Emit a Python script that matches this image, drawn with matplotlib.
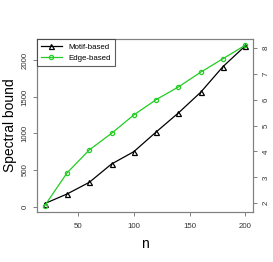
import matplotlib
matplotlib.use('Agg')
import matplotlib.pyplot as plt

plt.rcParams['font.family'] = ['Liberation Sans', 'DejaVu Sans']

# data
n = [20, 40, 60, 80, 100, 120, 140, 160, 180, 200]
motif = [40, 171, 331, 582, 751, 1020, 1281, 1564, 1915, 2199]
edge = [1.91, 3.17, 4.06, 4.70, 5.41, 6.00, 6.49, 7.06, 7.58, 8.10]

left_ticks = [0, 500, 1000, 1500, 2000]
right_ticks = [2, 3, 4, 5, 6, 7, 8]
x_ticks = [50, 100, 150, 200]

green = '#22cc22'
axis_grey = '#808080'

fig = plt.figure(figsize=(2.73, 2.62), dpi=100)
ax = fig.add_axes([0.1344, 0.192, 0.7923, 0.658])
ax2 = ax.twinx()

l1, = ax.plot(n, motif, color='black', lw=0.9, marker='^', ms=3.6,
              mfc='none', mec='black', mew=0.9, label='Motif-based')
l2, = ax2.plot(n, edge, color=green, lw=0.9, marker='o', ms=3.0,
               mfc='none', mec=green, mew=0.9, label='Edge-based')

ax.set_xlim(12.8, 207)
ax.set_ylim(-71, 2290)
ax2.set_ylim(1.676, 8.33)

ax.set_xticks(x_ticks)
ax.set_yticks(left_ticks)
ax2.set_yticks(right_ticks)

for a in (ax, ax2):
    for s in a.spines.values():
        s.set_color(axis_grey)
        s.set_linewidth(0.8)
    a.tick_params(length=3, width=0.7, color=axis_grey, labelsize=5.7,
                  labelcolor='#333333')
ax.tick_params(axis='x', pad=5)
ax.tick_params(axis='y', pad=3)
ax2.tick_params(axis='y', pad=4)

for lab in ax.get_yticklabels():
    lab.set_rotation(90)
    lab.set_va('center')
for lab in ax2.get_yticklabels():
    lab.set_rotation(90)
    lab.set_va('center')

ax.set_xlabel('n', fontsize=10, labelpad=5)
ax.set_ylabel('Spectral bound', fontsize=10, labelpad=3)

leg = ax2.legend([l1, l2], ['Motif-based', 'Edge-based'], loc='upper left',
                 bbox_to_anchor=(0, 1), borderaxespad=0, fontsize=5.7,
                 frameon=True, fancybox=False, handlelength=2.7,
                 handletextpad=0.8, borderpad=0.5, labelspacing=0.45)
leg.get_frame().set_edgecolor('#333333')
leg.get_frame().set_linewidth(0.8)

fig.savefig('out.png', dpi=100)
